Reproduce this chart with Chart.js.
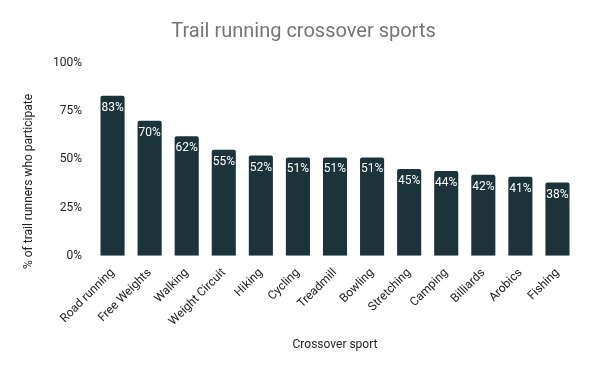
<!DOCTYPE html>
<html><head><meta charset="utf-8">
<script src="https://cdn.jsdelivr.net/npm/chart.js@4/dist/chart.umd.min.js"></script>
<style>html,body{margin:0;padding:0;background:#fff}#wrap{width:600px;height:371px}</style>
</head><body><div id="wrap"><canvas id="c" width="600" height="371"></canvas></div>
<script>
const categories = ["Road running","Free Weights","Walking","Weight Circuit","Hiking","Cycling","Treadmill","Bowling","Stretching","Camping","Billiards","Arobics","Fishing"];
const values = [83,70,62,55,52,51,51,51,45,44,42,41,38];
const yTicks = [0,25,50,75,100];
const yTitle = '% of trail runners who participate';

const labelPlugin = {
  id: 'barLabels',
  afterDatasetsDraw(chart) {
    const ctx = chart.ctx;
    const meta = chart.getDatasetMeta(0);
    ctx.save();
    ctx.font = '12px Roboto';
    ctx.fillStyle = '#ffffff';
    ctx.textAlign = 'center';
    ctx.textBaseline = 'middle';
    meta.data.forEach((bar, i) => {
      ctx.fillText(values[i] + '%', bar.x, bar.y + 12);
    });
    // y axis title, centred on the canvas height like the original
    ctx.fillStyle = '#222';
    ctx.translate(29, chart.height / 2 - 4);
    ctx.rotate(-Math.PI / 2);
    ctx.fillText(yTitle, 0, 0);
    ctx.restore();
  }
};

new Chart(document.getElementById('c'), {
  type: 'bar',
  data: { labels: categories, datasets: [{ data: values, backgroundColor: '#1c3339', borderRadius: {topLeft:2, topRight:2}, borderSkipped: 'bottom', categoryPercentage: 0.65, barPercentage: 1 }] },
  options: {
    responsive: false, animation: false, devicePixelRatio: 1,
    layout: { padding: { left: 31, right: 24, top: 0, bottom: 15 } },
    plugins: {
      legend: { display: false }, tooltip: { enabled: false },
      title: { display: true, text: 'Trail running crossover sports', color: '#757575', font: { family: 'Roboto', size: 20, weight: 'normal' }, padding: { top: 20, bottom: 19 } }
    },
    scales: {
      x: {
        grid: { display: false }, border: { display: false },
        ticks: { color: '#222', font: { family: 'Roboto', size: 12 }, maxRotation: 45, minRotation: 45, padding: 2 },
        title: { display: true, text: 'Crossover sport', color: '#222', font: { family: 'Roboto', size: 12 }, padding: { top: 7, bottom: 4 } }
      },
      y: {
        min: 0, max: 100,
        afterBuildTicks(axis) { axis.ticks = yTicks.map(v => ({ value: v })); },
        afterFit(axis) { axis.width += 18; },
        grid: { display: false }, border: { display: false },
        ticks: { color: '#222', font: { family: 'Roboto', size: 12 }, callback: v => v + '%', padding: 4 }
      }
    }
  },
  plugins: [labelPlugin]
});
</script></body></html>
